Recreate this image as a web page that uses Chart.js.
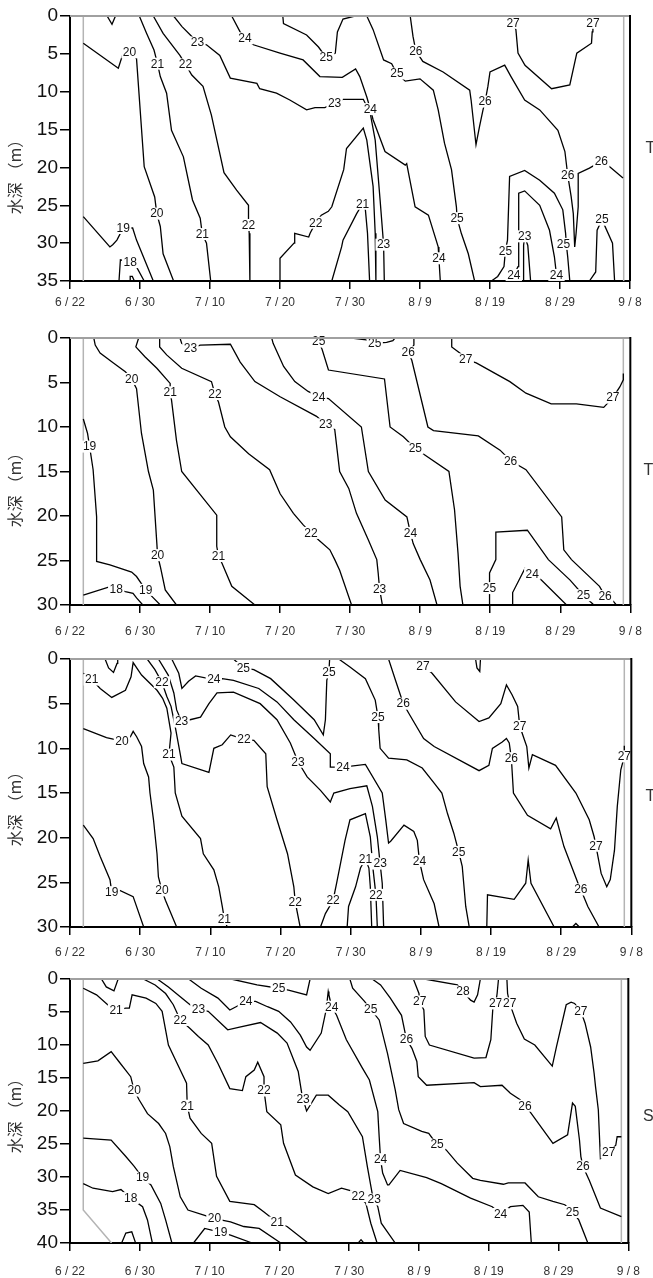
<!DOCTYPE html>
<html>
<head>
<meta charset="utf-8">
<script src="https://cdn.jsdelivr.net/npm/chart.js@4.4.1/dist/chart.umd.min.js"></script>
<style>
  html, body { margin: 0; padding: 0; background: #fff; }
  body { width: 653px; height: 1278px; position: relative; overflow: hidden; }
  canvas { position: absolute; left: 0; }
</style>
</head>
<body>
<canvas id="c1" width="653" height="311" style="top:0px"></canvas>
<canvas id="c2" width="653" height="313" style="top:322px"></canvas>
<canvas id="c3" width="653" height="314" style="top:643px"></canvas>
<canvas id="c4" width="653" height="315" style="top:963px"></canvas>
<script>
// ================== Datos ==================
// eje x: días (0 = 6/22, una marca cada 10), eje y: profundidad (m)
const X_LABELS = ["6 / 22", "6 / 30", "7 / 10", "7 / 20", "7 / 30", "8 / 9", "8 / 19", "8 / 29", "9 / 8"];
const Y_TITLE = "水深 （m）";
const STATIONS = ["T1", "T0", "T2", "S1"];
const MAX_DEPTH = [35, 30, 30, 40];

// ---- panel 1 (isotermas) ----
const p1_edge = [[1.9,0],[1.9,35]];
const p1_edgeR = [[79.1,0],[79.1,35]];
const p1_top = [[5.3,0],[6.0,1.1],[6.5,0]];
const p1_18 = [[7.0,35],[7.2,32.2],[8.6,32.5],[9.6,33.3],[10.6,35]];
const p1_18s = [[8.6,35],[8.6,34.4],[8.9,34.4],[9.2,35]];
const p1_19 = [[1.9,26.5],[5.7,30.5],[6.1,30.2],[6.7,29.6],[7.6,28],[8.95,28],[9.5,29.6],[11.9,35]];
const p1_20 = [[1.9,3.6],[6.9,6.9],[7.6,4.9],[8.5,4.8],[9.5,5.6],[10.6,19.9],[12.1,23.9],[12.4,26.1],[12.9,27.8],[13.3,31.4],[14.8,35]];
const p1_21 = [[9.9,0],[10.95,2.3],[12,4.5],[12.5,6.3],[12.9,8],[13.8,10.2],[14.5,15.1],[16.2,18.6],[17.5,24.3],[18.6,26.7],[18.9,28.8],[19.5,30],[20.1,35]];
const p1_22 = [[11.9,0],[13.3,2.3],[15.7,5.2],[16.5,6.4],[17.4,7.8],[19,9.3],[20.2,13.1],[22,20.7],[23.8,23],[25.5,25],[25.5,27.6],[25.6,28.7],[25.7,35]];
const p1_22b = [[30,35],[30,32],[32.0,30],[32.1,28.7],[34.1,29.2],[34.3,28.7],[35.1,27.3],[35.9,26.3],[36.9,25.8],[37.4,25.2],[39.1,20.3],[39.5,17.5],[41.9,14.8],[42.4,16.4],[43.3,22.5],[43.6,28.7],[43.7,35]];
const p1_21b = [[37.4,35],[38.8,30.5],[39.0,29.6],[40.95,26.1],[41.8,24.8],[42.2,25.6],[42.5,28.7],[42.8,35]];
const p1_23 = [[14.8,0],[16,1.4],[17.4,2.7],[18.2,3.5],[19.5,3.8],[21.4,5.2],[22.9,8.2],[26.7,8.9],[27.1,9.6],[29.5,10.2],[31.4,11.1],[33.8,12.4],[35,12.1],[36.4,12.1],[37.8,11.5],[39.0,11.0],[41.9,11.0],[42.9,12.9],[43.6,16.4],[44.3,24.3],[44.8,30.2],[44.9,35]];
const p1_24 = [[23.1,0],[24.3,2.1],[25,2.95],[26.2,3.8],[30,4.9],[33.3,5.8],[35.7,8.0],[38.9,8.1],[40.8,7.0],[41.4,8.0],[42.4,10.7],[42.9,12.3],[43.3,13.7],[45,17.9],[47.9,19.7],[48.1,19.5],[49.3,25.2],[51.2,26.3],[52.6,30.5],[52.7,32],[52.9,35]];
const p1_25 = [[30.4,0],[30.5,1.0],[33.8,2.5],[35.5,4.1],[36.6,5.5],[37.9,4.9],[38.2,2.1],[39.0,0.4],[40.7,0],[42.4,0],[43.3,1.8],[44.8,5.8],[45.95,6.3],[46.7,7.6],[47.9,8.6],[50,8.3],[51.9,9.8],[52.6,12.4],[53.5,16.8],[54.5,20.3],[55.2,25.2],[55.3,26.7],[55.9,28.7],[56.9,31.4],[57.8,35]];
const p1_26 = [[48.6,0],[49.0,2.7],[49.4,4.6],[50.4,6.0],[53.3,7.4],[57.1,9.8],[57.3,11.1],[58.0,17.0],[58.5,14.6],[59.0,12.4],[59.3,11.3],[59.7,9.3],[60.0,7.4],[62.1,6.5],[63.0,8.0],[64.95,11.1],[67.1,12.4],[69.7,15.1],[70.7,17.9],[71.1,21.0],[71.6,23.9],[71.9,26.1],[72.1,30.5],[72.3,28.7],[72.6,25.2],[72.6,20.8],[74.2,20.1],[75.9,19.2],[77.1,19.9],[79.0,21.4]];
const p1_27 = [[63.3,0],[63.3,0.9],[63.7,1.8],[64,4.9],[65,6.5],[68.8,9.6],[71.4,9.1],[72.4,4.9],[74.5,3.6],[74.6,2.1],[74.7,0.9],[74.7,0]];
const p1_25b = [[60.2,35],[61.1,34.4],[62,33.1],[62.2,31],[62.5,29.6],[62.8,21.2],[64.95,20.4],[67.1,21.7],[69.2,23.4],[70.4,25.6],[70.8,28.7],[70.9,30.1],[71.1,31.8],[71.4,35]];
const p1_24b = [[63.2,35],[63.4,34.2],[64,33.1],[64.1,23.4],[64.95,23.1],[67.1,25],[68.5,28.3],[69.2,31.8],[69.5,34.2],[69.7,35]];
const p1_23b = [[64.8,35],[64.8,30.3],[64.95,29.1],[65.4,30.3],[65.8,35]];
const p1_25c = [[74.2,35],[75.1,33.8],[75.3,28.3],[76,26.9],[77.5,30],[77.8,35]];
const p1_labels = [[8.5,4.8,"20"],[12.4,26.1,"20"],[7.6,28,"19"],[8.6,32.5,"18"],[12.5,6.3,"21"],[18.9,28.8,"21"],[16.5,6.4,"22"],[25.5,27.6,"22"],[35.1,27.3,"22"],[18.2,3.5,"23"],[37.8,11.5,"23"],[44.8,30.2,"23"],[25,2.95,"24"],[42.9,12.3,"24"],[52.7,32,"24"],[36.6,5.5,"25"],[46.7,7.6,"25"],[55.3,26.7,"25"],[41.8,24.8,"21"],[49.4,4.6,"26"],[59.3,11.3,"26"],[71.1,21.0,"26"],[75.9,19.2,"26"],[63.3,0.9,"27"],[74.7,0.9,"27"],[62.2,31,"25"],[70.5,30.1,"25"],[63.4,34.2,"24"],[69.5,34.2,"24"],[64.95,29.1,"23"],[76,26.9,"25"]];

// ---- panel 2 ----
const p2_edge = [[1.9,0],[1.9,30]];
const p2_edgeR = [[79.0,0],[79.0,30]];
const p2_18 = [[1.9,28.9],[5.5,28.0],[6.6,28.2],[7.9,28.5],[9,28.7],[9.5,29.2],[10.4,30]];
const p2_19 = [[1.9,9.1],[2.5,10.7],[2.8,12.2],[3.3,14.8],[3.8,20.1],[3.8,25.1],[5.7,25.5],[8.8,26.3],[9.5,26.8],[10.8,28.3],[11.9,29.2],[12.9,30]];
const p2_20 = [[3.4,0],[3.6,0.8],[4.3,1.7],[6.2,2.8],[7.9,3.8],[8.8,4.6],[9.5,5.7],[10.2,10.7],[11.2,15],[11.9,17.1],[12.4,23.1],[12.5,24.4],[12.9,25.7],[13.6,28.3],[15.2,30]];
const p2_21 = [[9.8,0],[9.4,1.0],[10.7,2.1],[12.4,3.4],[14.3,5.1],[14.3,6.1],[14.5,7.0],[15.2,11.5],[15.95,15],[18.6,17.6],[20.95,19.9],[20.95,23.4],[21.2,24.5],[21.7,25.3],[23.1,27.9],[26.4,30]];
const p2_22 = [[12.8,0],[12.8,1.0],[13.8,1.9],[15.95,3.4],[20.2,4.9],[20.7,6.3],[21.2,7.2],[22.1,10],[22.9,11.1],[25.5,13],[28.5,14.8],[30,17.5],[31.9,19.7],[33.3,21],[34.4,21.9],[35.5,22.7],[37.1,23.8],[37.8,24.9],[38.5,26.1],[40.2,30]];
const p2_23 = [[15.7,0],[15.95,0.6],[17.2,1.2],[18.6,0.8],[22.9,0.7],[24.3,2.7],[26.4,4.9],[30,6.6],[35.2,8.8],[36.5,9.7],[37.8,10.3],[38.5,15],[39.8,16.9],[40.9,19.7],[42.6,22.7],[43.8,24.9],[44.0,26.4],[44.2,28.2],[44.6,30]];
const p2_24 = [[28.8,0],[29,0.6],[30.5,3.2],[32.1,4.9],[34,6],[35.5,6.6],[36.9,6.8],[41.6,10],[42.6,15],[45.0,18.2],[48.1,20.1],[48.6,21.9],[49,23.1],[50,24.9],[51.4,27.2],[52.4,30]];
const p2_25 = [[34.3,0],[35.5,0.4],[36,1.3],[36.9,3.6],[44.9,4.6],[45.7,10],[47.6,11.1],[49.3,12.4],[50.4,13],[54.1,15],[54.9,19.3],[55.4,24.2],[55.7,27.9],[56.1,30]];
const p2_25s = [[40.2,0],[42.3,0.2],[43.5,0.6],[45.2,0.5],[46.1,0.3],[46.4,0]];
const p2_26 = [[49.1,0],[49.1,0.8],[48.3,1.6],[48.8,2.5],[51.1,10],[51.9,10.4],[58.3,11],[61.4,12.6],[62.9,13.8],[65.1,14.8],[70.2,20.1],[70.5,23.8],[71.6,24.9],[75.6,27.9],[76.4,29],[77.6,29.6],[78.0,30]];
const p2_27 = [[54.5,0],[54.5,1.0],[55.7,1.7],[56.5,2.4],[58.0,2.8],[62.8,4.9],[65.1,6.2],[68.7,7.4],[72.3,7.4],[76.2,7.8],[77.5,6.7],[78.5,5.5],[79.0,4.7],[79.0,4.0]];
const p2_25b = [[59.9,30],[59.9,26.4],[60.8,24.9],[60.8,21.8],[65.3,21.6],[68.3,24.9],[71.4,27.2],[73.3,28.9],[74.8,30]];
const p2_24b = [[63.2,30],[63.2,28.6],[64.95,25.9],[66,26.5],[67.3,27.2],[70.9,30]];
const p2_labels = [[2.8,12.2,"19"],[10.8,28.3,"19"],[6.6,28.2,"18"],[8.8,4.6,"20"],[12.5,24.4,"20"],[14.3,6.1,"21"],[21.2,24.5,"21"],[20.7,6.3,"22"],[34.4,21.9,"22"],[17.2,1.2,"23"],[36.5,9.7,"23"],[44.2,28.2,"23"],[35.5,6.6,"24"],[48.6,21.9,"24"],[35.5,0.4,"25"],[43.5,0.6,"25"],[49.3,12.4,"25"],[59.9,28.1,"25"],[73.3,28.9,"25"],[48.3,1.6,"26"],[62.9,13.8,"26"],[76.4,29,"26"],[56.5,2.4,"27"],[77.5,6.7,"27"],[66,26.5,"24"]];

// ---- panel 3 ----
const p3_edge = [[1.9,0],[1.9,30]];
const p3_edgeR = [[79.0,0],[79.0,30]];
const p3_top = [[5,0],[5.5,1.0],[6.2,1.5],[6.7,0.5],[6.8,0]];
const p3_19 = [[1.9,18.6],[3.3,20.1],[4.3,22.1],[5.7,24.7],[5.95,26.1],[7.1,25.9],[9.0,26.6],[10.5,30]];
const p3_20 = [[1.9,7.8],[5.2,8.8],[7.4,9.2],[8.6,8.7],[9.0,8.1],[9.5,8.7],[10.2,9.8],[10.5,11.7],[11.2,13.2],[11.4,15],[11.9,18.0],[12.4,21.8],[12.6,24.4],[13.1,25.9],[13.6,27],[15.2,30]];
const p3_21 = [[1.9,1.6],[3.1,2.3],[4.3,3.3],[5.95,4.3],[7.9,3.5],[8.7,2.0],[9.0,0.4],[10.2,1.8],[12.4,3.5],[13.2,4.4],[13.8,5.5],[14.4,8.3],[14.1,10.7],[14.8,12.1],[15,15],[15.95,17.6],[18.6,20.1],[19,21.8],[20.5,23.6],[21.2,25.5],[21.7,27.7],[22,29.1],[22.4,30]];
const p3_22 = [[11,0],[12.1,1.2],[13.1,2.6],[13.8,4.2],[14.4,5.3],[15,7.6],[15.7,10.6],[15.95,11.7],[19.8,12.7],[20.5,10],[21.7,9.6],[22.9,8.5],[24.8,9.0],[26.2,9.1],[27.9,10.6],[28.1,14.3],[29.5,18],[31,21.8],[31.9,25.5],[32.1,27.2],[32.8,30]];
const p3_23 = [[12.6,0],[14,1.8],[14.8,3.8],[15.2,5.7],[15.9,7.0],[17.1,6.8],[18.6,6.5],[19.8,5.0],[20.95,3.8],[23.3,3.7],[27.1,5.0],[29.5,6.8],[31.4,9.4],[32.5,11.5],[33.8,13.2],[35.7,14.7],[37.1,16.0],[37.6,15.0],[39.9,14.5],[42.3,14.2],[43.1,16.5],[43.8,19.9],[44.2,22.9],[44.5,25.1],[44.7,30]];
const p3_24 = [[14.5,0],[15.5,1.6],[15.95,3.3],[16.9,2.5],[17.9,1.9],[20.5,2.3],[21.7,2.2],[23.3,2.4],[26.9,3.3],[29.5,4.8],[31.9,6.8],[34.8,8.9],[37.1,10.6],[37.1,12.1],[38.9,12.1],[42.1,11.8],[44.5,15.0],[45,18.0],[45.4,20.6],[45.7,20.4],[47.6,18.6],[49,19.3],[49.5,20.3],[49.8,22.6],[50.4,24.7],[51.9,27.4],[52.6,30]];
const p3_25 = [[23.3,0],[24.7,1.0],[26.2,1.2],[28.6,2.2],[31.9,4.6],[34.8,6.8],[36.1,8.5],[36.4,6.8],[36.6,2.4],[36.9,1.5],[37.0,0]];
const p3_25b = [[38.3,0],[39.9,0.9],[42.1,2.2],[43.5,4.6],[43.9,6.5],[44,7.9],[44.2,10.0],[45.4,11.1],[48,11.3],[50.2,12.2],[51.9,13.9],[53.0,15.0],[53.8,17.3],[54.7,19.5],[55.4,21.6],[55.9,23.2],[56.4,27.7],[56.9,30]];
const p3_26 = [[45.4,0],[46.4,2.4],[47.5,5],[48.3,6.1],[50.4,8.9],[51.9,9.8],[58.3,12.5],[59.7,11.9],[60.2,10],[61.6,9.3],[62.2,8.9],[62.6,9.4],[62.9,11.1],[63.0,12.4],[63.2,15.0],[65.2,17.5],[68.5,19.0],[69.3,17.8],[70.4,21.0],[72.4,25.1],[72.8,25.8],[73.8,27.7],[75.4,30]];
const p3_27 = [[49.5,0],[50.3,0.8],[51.6,1.6],[54.95,4.8],[58.3,7.0],[59.7,6.6],[61.4,5.0],[62.2,2.9],[63.0,4.0],[63.8,5.3],[64.1,7.5],[64.7,8.9],[65.1,9.8],[65.4,12.2],[65.9,10.7],[69.2,11.9],[72.1,15],[74.0,18.0],[74.7,19.9],[74.95,20.9],[75.7,24],[76.5,25.5],[77,24.7],[77.6,21.4],[78,16.5],[78.5,12.4],[79,10.9],[79.0,9.7]];
const p3_blob = [[57.8,0],[58.0,1.0],[58.4,1.4],[58.5,0]];
const p3_dome = [[59.4,30],[59.5,26.4],[63.3,26.9],[64.95,25.1],[65.3,22.5],[65.7,25.1],[69,30]];
const p3_bump = [[71.6,30],[72.1,29.6],[72.6,30]];
const p3_22b = [[35.7,30],[36.4,28.5],[37.5,27.0],[38.0,25.1],[39.2,20.3],[39.9,18.0],[42.1,17.3],[42.8,19.9],[43.2,23.6],[43.6,26.4],[43.8,30]];
const p3_21b = [[39.5,30],[39.7,27.7],[40.7,25.5],[41.4,23.4],[42.1,22.4],[42.6,23.4],[42.8,25.5],[43.0,30]];
const p3_labels = [[3.1,2.3,"21"],[14.1,10.7,"21"],[22,29.1,"21"],[13.1,2.6,"22"],[24.8,9.0,"22"],[32.1,27.2,"22"],[15.9,7.0,"23"],[32.5,11.5,"23"],[20.5,2.3,"24"],[24.7,1.0,"25"],[36.9,1.5,"25"],[7.4,9.2,"20"],[13.1,25.9,"20"],[5.95,26.1,"19"],[37.5,27.0,"22"],[42.1,22.4,"21"],[44.2,22.9,"23"],[43.6,26.4,"22"],[38.9,12.1,"24"],[49.8,22.6,"24"],[43.9,6.5,"25"],[55.4,21.6,"25"],[47.5,5.0,"26"],[62.9,11.1,"26"],[72.8,25.8,"26"],[50.3,0.8,"27"],[64.1,7.5,"27"],[74.95,20.9,"27"],[79,10.9,"27"]];

// ---- panel 4 ----
const p4_edge = [[1.9,0],[1.9,35],[5.95,40]];
const p4_edgeR = [[79.0,0],[79.0,40]];
const p4_top = [[4.5,0],[5.2,1.2],[6.3,1.8],[6.9,0]];
const p4_18 = [[1.9,31.0],[3.3,31.7],[6.1,32.2],[7.3,31.9],[8.7,33.2],[10.4,34.5],[11.1,36.5],[11.8,40]];
const p4_18s = [[7.4,40],[8.0,38.5],[8.85,38.3],[9.4,40]];
const p4_19 = [[1.9,24.1],[5.9,24.4],[8.0,26.9],[9.2,28.4],[10.4,30.1],[11.6,31.2],[13.0,34],[13.7,36.5],[14.6,40]];
const p4_19s = [[17.7,40],[19.3,37.8],[21.6,38.4],[23.0,38.8],[26.1,40]];
const p4_20 = [[1.9,12.8],[4.0,12.4],[5.9,11],[7.0,12.5],[8.7,14.8],[9.2,16.9],[9.9,18.3],[11.1,20.4],[12.7,21.9],[13.7,23.4],[14.3,25.4],[14.8,28.4],[15.8,33],[16.9,35],[19.3,35.8],[20.7,36.3],[23.0,36.8],[24.9,37.5],[27.1,37.8],[30.2,40]];
const p4_21 = [[1.9,1.4],[3.8,2.4],[5.4,3.9],[6.6,4.7],[8.0,4.4],[8.5,4.4],[8.9,2.4],[10.9,2.9],[12.3,3.7],[13.2,4.9],[14.1,10],[15.8,13.8],[16.7,15.8],[16.8,19.2],[17.2,21.1],[18.8,23.4],[20.3,24.9],[21.0,29.9],[22.9,33.7],[26.4,34.2],[27.8,35.3],[29.7,36.9],[31.1,37.5],[34.1,40]];
const p4_22 = [[10.5,0],[12.2,0.9],[13.7,2.2],[14.8,3.9],[15.8,6.2],[17.2,7.5],[18.4,8.7],[19.8,10],[21.2,12.8],[22.9,16.6],[24.7,16.9],[25.2,14.8],[26.4,13.8],[26.9,12.6],[27.8,14.8],[27.8,16.9],[28.2,20.1],[30.2,22.1],[30.6,24.9],[32.3,29.7],[34.8,31.5],[37.0,32.5],[38.9,31.7],[40.3,32.1],[41.3,32.9],[42.4,34],[43.1,37],[44.0,40]];
const p4_23 = [[12.5,0],[14.1,1.2],[15.8,2.7],[17.2,3.9],[18.4,4.6],[19.8,4.9],[22.6,7.7],[24.3,7.3],[27.3,6.6],[29.7,8.2],[31.1,9.7],[32.7,14],[33.2,17.3],[33.4,18.2],[33.9,20],[35.3,17.6],[37.0,17.6],[38.6,19.1],[39.8,20.1],[41.9,23.9],[42.6,28.4],[43.3,32.5],[43.6,33.4],[44.1,34.5],[44.6,37],[46.6,40]];
const p4_24 = [[17.0,0],[18.8,1.4],[21.2,2.9],[22.9,4.7],[23.8,4.2],[25.2,3.4],[26.6,3.4],[28.3,4.2],[29.9,4.9],[31.6,6.5],[33.0,8.5],[33.9,10.3],[34.4,10.8],[36.0,8.2],[36.7,4.7],[37.0,1.9],[37.1,2.4],[37.5,4.2],[38.2,5.5],[39.6,9.2],[41.9,13.5],[42.9,15.3],[44.1,20.1],[44.3,23.9],[44.5,27.3],[44.8,29.4],[45.5,31.2],[45.7,31.2],[47.3,29.0],[51.1,30.1],[53.2,31],[57.4,33.2],[60.5,34.5],[61.7,35.6],[63.1,34.5],[64.9,34.3],[65.8,35.3],[66.1,40]];
const p4_25 = [[23.1,0],[26.8,0.9],[29.9,1.4],[31.3,1.7],[33.9,2.4],[34.4,0]];
const p4_25b = [[40.1,0],[40.5,1.4],[42.2,3.4],[43.1,4.6],[44.3,6.2],[45.5,11.3],[46.6,16.8],[47.1,19.8],[47.8,21.9],[50.4,23.1],[51.4,23.4],[52.6,25.1],[53.9,25.9],[55.5,27.9],[57.7,30.2],[58.8,30.5],[62.1,31.1],[62.8,30.9],[65.2,30.9],[67.1,33],[69.2,33.7],[70.9,34.2],[72.0,35.3],[72.9,36.5],[74.2,40]];
const p4_26 = [[43.3,0],[44.5,0.9],[45.9,2.9],[47.5,5.5],[48.2,9.1],[49.0,10.5],[49.7,12.5],[49.9,14.8],[51.1,16.1],[57.9,15.7],[58.8,16.3],[61.9,16.1],[63.1,17.3],[64.5,18.3],[65.2,19.2],[65.9,20.1],[69.2,24.9],[71.3,23.6],[72.0,18.8],[72.4,19.3],[73.0,24.4],[73.2,26.9],[73.5,28.4],[74.4,30.5],[76.0,34.7],[79.0,36]];
const p4_27a = [[49.2,0],[50.0,2.2],[50.1,3.4],[50.7,4.7],[50.9,8.7],[51.5,10],[57.9,12],[59.6,11.9],[60.3,9.2],[60.6,4.2],[61.0,3.7],[61.2,2.2],[61.4,0]];
const p4_27b = [[62.6,0],[62.7,2.2],[63.0,3.7],[64.0,6.7],[65.1,9.1],[66.6,10],[69.1,13.2],[69.7,10.3],[71.1,3.9],[71.8,3.5],[72.3,3.7],[73.2,4.9],[73.8,6.7],[74.6,10.3],[75.1,14.3],[75.3,16.3],[75.7,19.8],[76.0,27.2],[77.2,26.3],[78.2,25.2],[78.4,23.9],[79.0,23.9]];
const p4_28 = [[50.8,0],[55.5,0.9],[56.3,1.9],[57.4,3.2],[57.9,3.5],[58.4,2.4],[58.8,0]];
const p4_blob = [[41.3,40],[41.7,39.5],[42.1,40]];
const p4_labels = [[6.6,4.7,"21"],[16.8,19.2,"21"],[29.7,36.9,"21"],[9.2,16.9,"20"],[20.7,36.3,"20"],[10.4,30.1,"19"],[21.6,38.4,"19"],[8.7,33.2,"18"],[15.8,6.2,"22"],[27.8,16.9,"22"],[41.3,32.9,"22"],[18.4,4.6,"23"],[33.4,18.2,"23"],[43.6,33.4,"23"],[25.2,3.4,"24"],[37.5,4.2,"24"],[44.5,27.3,"24"],[61.7,35.6,"24"],[29.9,1.4,"25"],[43.1,4.6,"25"],[52.6,25.1,"25"],[72.0,35.3,"25"],[48.2,9.1,"26"],[65.2,19.2,"26"],[73.5,28.4,"26"],[50.1,3.4,"27"],[61.0,3.7,"27"],[63.0,3.7,"27"],[73.2,4.9,"27"],[77.2,26.3,"27"],[56.3,1.9,"28"]];

// ================== Paneles ==================
const PANELS = [
  { id: "c1", lines: [p1_top,p1_18,p1_18s,p1_19,p1_20,p1_21,p1_22,p1_22b,p1_21b,p1_23,p1_24,p1_25,p1_26,p1_27,p1_25b,p1_24b,p1_23b,p1_25c],
    edges: [p1_edge,p1_edgeR], labels: p1_labels, padR: 23, xh: 30, xpad: 6, titleY: 173, sideY: 149, sideX: 645.5 },
  { id: "c2", lines: [p2_18,p2_19,p2_20,p2_21,p2_22,p2_23,p2_24,p2_25,p2_25s,p2_26,p2_27,p2_25b,p2_24b],
    edges: [p2_edge,p2_edgeR], labels: p2_labels, padR: 21, xh: 30, xpad: 11, titleY: 164, sideY: 149, sideX: 643.5 },
  { id: "c3", lines: [p3_top,p3_19,p3_20,p3_21,p3_22,p3_23,p3_24,p3_25,p3_25b,p3_26,p3_27,p3_blob,p3_dome,p3_bump,p3_22b,p3_21b],
    edges: [p3_edge,p3_edgeR], labels: p3_labels, padR: 20, xh: 30, xpad: 10, titleY: 162, sideY: 154, sideX: 645.5 },
  { id: "c4", lines: [p4_top,p4_18,p4_18s,p4_19,p4_19s,p4_20,p4_21,p4_22,p4_23,p4_24,p4_25,p4_25b,p4_26,p4_27a,p4_27b,p4_28,p4_blob],
    edges: [p4_edge,p4_edgeR], labels: p4_labels, padR: 17, xh: 35, xpad: 13, titleY: 149, sideY: 154, sideX: 643 }
];

const FONT = '"Liberation Sans", Arial, sans-serif';
const toXY = pts => pts.map(([x, y]) => ({ x, y }));

// etiquetas de isolíneas, marco, título y estación
function decor(cfg, station) {
  return {
    id: "decor",
    afterDatasetsDraw(chart) {
      const { ctx, scales: { x, y } } = chart;
      ctx.save();
      ctx.font = "12px " + FONT;
      ctx.textAlign = "center";
      ctx.textBaseline = "middle";
      cfg.labels.forEach(([vx, vy, t]) => {
        const px = x.getPixelForValue(vx), py = y.getPixelForValue(vy);
        const w = ctx.measureText(t).width;
        ctx.fillStyle = "#fff";
        ctx.fillRect(px - w / 2 - 1.5, py - 6, w + 3, 12);
        ctx.fillStyle = "#111";
        ctx.fillText(t, px, py + 0.5);
      });
      ctx.restore();
    },
    afterDraw(chart) {
      const { ctx, chartArea: a } = chart;
      ctx.save();
      ctx.lineWidth = 2;
      ctx.strokeStyle = "#a0a0a0";
      ctx.beginPath(); ctx.moveTo(a.left, a.top); ctx.lineTo(a.right, a.top); ctx.stroke();
      ctx.strokeStyle = "#000";
      ctx.beginPath(); ctx.moveTo(a.right, a.top - 1); ctx.lineTo(a.right, a.bottom); ctx.stroke();

      ctx.fillStyle = "#333";
      ctx.font = "16px " + FONT;
      ctx.textAlign = "left";
      ctx.textBaseline = "middle";
      ctx.fillText(station, cfg.sideX, cfg.sideY);

      ctx.translate(15, cfg.titleY);
      ctx.rotate(-Math.PI / 2);
      ctx.font = '16px "Noto Sans CJK SC", sans-serif';
      ctx.textAlign = "center";
      ctx.fillText(Y_TITLE, 0, 0);
      ctx.restore();
    }
  };
}

PANELS.forEach((cfg, i) => {
  const datasets = cfg.lines.map(pts => ({
    data: toXY(pts), showLine: true, borderColor: "#000", borderWidth: 1.3,
    pointRadius: 0, fill: false, tension: 0
  })).concat(cfg.edges.map(pts => ({
    data: toXY(pts), showLine: true, borderColor: "#b4b4b4", borderWidth: 1.5,
    pointRadius: 0, fill: false, tension: 0
  })));

  new Chart(document.getElementById(cfg.id), {
    type: "scatter",
    data: { datasets },
    options: {
      responsive: false,
      animation: false,
      events: [],
      layout: { padding: { top: 16, right: cfg.padR, left: 0, bottom: 0 } },
      plugins: { legend: { display: false }, tooltip: { enabled: false } },
      scales: {
        x: {
          type: "linear", position: "bottom", min: 0, max: 80,
          afterFit: s => { s.height = cfg.xh; },
          ticks: { stepSize: 10, autoSkip: false, maxRotation: 0, padding: cfg.xpad, color: "#333",
                   font: { family: FONT, size: 12 }, callback: v => X_LABELS[Math.round(v / 10)] },
          grid: { drawOnChartArea: false, drawTicks: true, tickLength: 8, color: "#000", lineWidth: 1.5 },
          border: { display: true, color: "#000", width: 2 }
        },
        y: {
          type: "linear", reverse: true, min: 0, max: MAX_DEPTH[i],
          afterFit: s => { s.width = 70; },
          ticks: { stepSize: 5, padding: 2, color: "#111", font: { family: FONT, size: 19 } },
          grid: { drawOnChartArea: false, drawTicks: true, tickLength: 10, color: "#000", lineWidth: 1.5 },
          border: { display: true, color: "#000", width: 2 }
        }
      }
    },
    plugins: [decor(cfg, STATIONS[i])]
  });
});
</script>
</body>
</html>
